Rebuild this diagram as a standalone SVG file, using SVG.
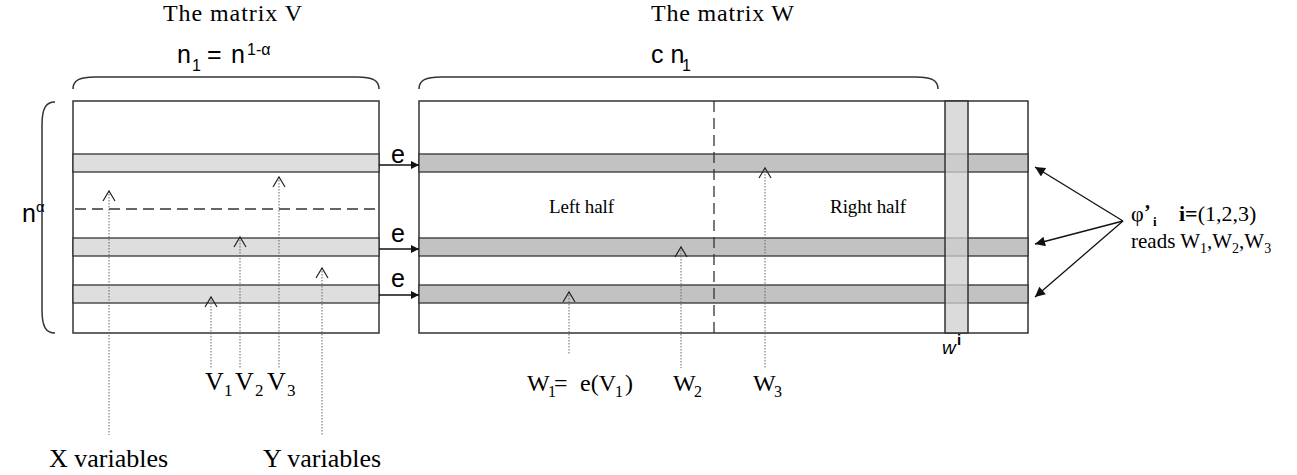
<svg xmlns="http://www.w3.org/2000/svg" width="1297" height="475" viewBox="0 0 1297 475">
<defs>
<style>
.serif{font-family:"Liberation Serif","Times New Roman",serif;fill:#000}
.sans{font-family:"Liberation Sans",Arial,sans-serif;fill:#000}
.frame{fill:#fff;stroke:#333;stroke-width:1.5}
.vband{fill:#dedede;stroke:#333;stroke-width:1.3}
.wband{fill:#c2c2c2;stroke:#333;stroke-width:1.3}
.brace{fill:none;stroke:#333;stroke-width:1.5}
.dash{fill:none;stroke:#333;stroke-width:1.3;stroke-dasharray:11 6}
.dot{fill:none;stroke:#666;stroke-width:1;stroke-dasharray:1.5 1.5}
.caret{fill:none;stroke:#222;stroke-width:1.2}
.arrow{fill:none;stroke:#111;stroke-width:1.3;marker-end:url(#ah)}
</style>
<marker id="ah" viewBox="0 0 10 10" refX="10" refY="5" markerWidth="10" markerHeight="8" markerUnits="userSpaceOnUse" orient="auto">
<path d="M0,0 L10,5 L0,10 Z" fill="#111"/>
</marker>
<marker id="ah2" viewBox="0 0 10 10" refX="10" refY="5" markerWidth="13" markerHeight="10" markerUnits="userSpaceOnUse" orient="auto">
<path d="M0,0 L10,5 L0,10 Z" fill="#111"/>
</marker>
</defs>
<rect width="1297" height="475" fill="#fff"/>

<g id="titles">
<text class="serif" x="163" y="21" font-size="24" textLength="139">The matrix V</text>
<text class="serif" x="651" y="21" font-size="24" textLength="143">The matrix W</text>
</g>

<g id="matrixV">
<rect class="frame" x="73" y="101" width="306" height="232"/>
<rect class="vband" x="73" y="154" width="306" height="18"/>
<rect class="vband" x="73" y="238" width="306" height="18"/>
<rect class="vband" x="73" y="285" width="306" height="18"/>
<line class="dash" x1="75" y1="209" x2="379" y2="209"/>
<path class="brace" d="M73,89 C73,80 80,77 95,77 L357,77 C372,77 379,80 379,89"/>
<text class="sans" font-size="25"><tspan x="177" y="63">n</tspan><tspan x="192" y="71" font-size="16">1</tspan><tspan x="207" y="63">=</tspan><tspan x="231" y="63">n</tspan><tspan x="247" y="55" font-size="16">1-α</tspan></text>
<path class="brace" d="M55,102 C46,102 42,108 42,125 L42,310 C42,327 46,333 55,333"/>
<text class="sans" font-size="25"><tspan x="22" y="222">n</tspan><tspan x="36" y="212" font-size="15">α</tspan></text>
</g>

<g id="matrixW">
<rect class="frame" x="419" y="101" width="609" height="232"/>
<rect class="wband" x="419" y="154" width="609" height="18"/>
<rect class="wband" x="419" y="238" width="609" height="18"/>
<rect class="wband" x="419" y="285" width="609" height="18"/>
<line class="dash" x1="714" y1="101" x2="714" y2="333"/>
<rect x="945" y="101" width="23" height="232" fill="#cfcfcf" fill-opacity="0.75" stroke="#333" stroke-width="1.5"/>
<path class="brace" d="M419,89 C419,80 426,77 441,77 L916,77 C931,77 938,80 938,89"/>
<text class="sans" font-size="25"><tspan x="651" y="63">c n</tspan><tspan x="682" y="71" font-size="16">1</tspan></text>
<text class="serif" x="549" y="213" font-size="19" textLength="65">Left half</text>
<text class="serif" x="830" y="213" font-size="19" textLength="76">Right half</text>
<text class="sans" font-size="19" font-style="italic" x="942" y="354">w</text>
<text class="sans" font-size="15" font-weight="bold" x="957" y="345">i</text>
</g>

<g id="connectors">
<line class="arrow" x1="379" y1="165" x2="419" y2="165"/>
<line class="arrow" x1="379" y1="249" x2="419" y2="249"/>
<line class="arrow" x1="379" y1="295" x2="419" y2="295"/>
<text class="sans" font-size="25" x="391" y="163">e</text>
<text class="sans" font-size="25" x="391" y="242">e</text>
<text class="sans" font-size="25" x="391" y="287">e</text>

<line class="dot" x1="109" y1="191" x2="109" y2="435"/>
<polyline class="caret" points="103,201 109,191 115,201"/>
<line class="dot" x1="211" y1="297" x2="211" y2="368"/>
<polyline class="caret" points="205,307 211,297 217,307"/>
<line class="dot" x1="240" y1="237" x2="240" y2="368"/>
<polyline class="caret" points="234,247 240,237 246,247"/>
<line class="dot" x1="279" y1="177" x2="279" y2="368"/>
<polyline class="caret" points="273,187 279,177 285,187"/>
<line class="dot" x1="322" y1="268" x2="322" y2="435"/>
<polyline class="caret" points="316,278 322,268 328,278"/>

<line class="dot" x1="569" y1="292" x2="569" y2="355"/>
<polyline class="caret" points="563,302 569,292 575,302"/>
<line class="dot" x1="681" y1="247" x2="681" y2="368"/>
<polyline class="caret" points="675,257 681,247 687,257"/>
<line class="dot" x1="765" y1="168" x2="765" y2="368"/>
<polyline class="caret" points="759,178 765,168 771,178"/>

<line x1="1123" y1="221" x2="1035" y2="167" stroke="#111" stroke-width="1.3" marker-end="url(#ah2)"/>
<line x1="1123" y1="221" x2="1035" y2="244" stroke="#111" stroke-width="1.3" marker-end="url(#ah2)"/>
<line x1="1123" y1="221" x2="1035" y2="297" stroke="#111" stroke-width="1.3" marker-end="url(#ah2)"/>
</g>

<g id="labels">
<text class="serif" font-size="26"><tspan x="205" y="390">V</tspan><tspan x="224" y="396" font-size="17">1</tspan><tspan x="235" y="390">V</tspan><tspan x="255" y="396" font-size="17">2</tspan><tspan x="267" y="390">V</tspan><tspan x="287" y="396" font-size="17">3</tspan></text>
<text class="serif" font-size="24"><tspan x="527" y="391">W</tspan><tspan x="548" y="397" font-size="16">1</tspan><tspan x="554" y="391">=</tspan><tspan x="580" y="391">e(V</tspan><tspan x="615" y="397" font-size="16">1</tspan><tspan x="625" y="391">)</tspan></text>
<text class="serif" font-size="24"><tspan x="673" y="391">W</tspan><tspan x="694" y="397" font-size="16">2</tspan></text>
<text class="serif" font-size="24"><tspan x="753" y="391">W</tspan><tspan x="774" y="397" font-size="16">3</tspan></text>
<text class="serif" x="49" y="467" font-size="26">X variables</text>
<text class="serif" x="263" y="467" font-size="26">Y variables</text>
<text class="serif" font-size="22"><tspan x="1131" y="221">φ</tspan><tspan x="1144" y="219" font-size="20" font-weight="bold">’</tspan><tspan x="1153" y="226" font-size="13" font-weight="bold">i</tspan></text>
<text class="serif" font-size="22"><tspan x="1179" y="221" font-weight="bold">i=</tspan><tspan>(1,2,3)</tspan></text>
<text class="serif" font-size="21"><tspan x="1131" y="248">reads W</tspan><tspan font-size="14" dy="5">1</tspan><tspan dy="-5">,W</tspan><tspan font-size="14" dy="5">2</tspan><tspan dy="-5">,W</tspan><tspan font-size="14" dy="5">3</tspan></text>
</g>
</svg>
